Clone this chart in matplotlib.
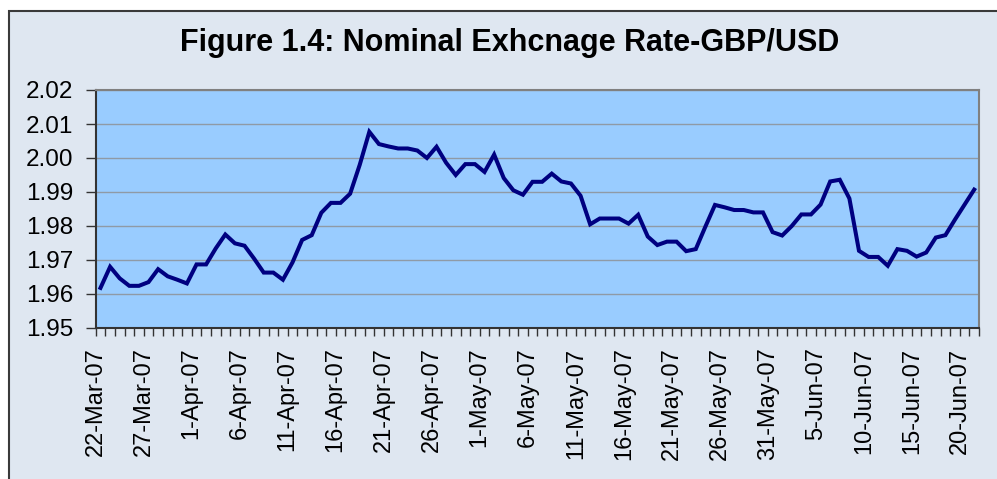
import numpy as np
import matplotlib.pyplot as plt
from matplotlib.patches import Rectangle

# GBP/USD daily rate, 22-Mar-07 .. 21-Jun-07 (weekends carry Friday's value)
rate = [1.9618, 1.9680, 1.9646, 1.9624, 1.9624, 1.9635, 1.9673, 1.9652,
        1.9642, 1.9631, 1.9687, 1.9687, 1.9734, 1.9775, 1.9749, 1.9742,
        1.9704, 1.9663, 1.9663, 1.9642, 1.9693, 1.9759, 1.9773, 1.9839,
        1.9868, 1.9868, 1.9895, 1.9980, 2.0077, 2.0041, 2.0034, 2.0028,
        2.0028, 2.0022, 2.0000, 2.0033, 1.9986, 1.9950, 1.9982, 1.9982,
        1.9959, 2.0010, 1.9941, 1.9905, 1.9892, 1.9930, 1.9930, 1.9954,
        1.9931, 1.9925, 1.9889, 1.9805, 1.9822, 1.9822, 1.9822, 1.9807,
        1.9833, 1.9769, 1.9744, 1.9754, 1.9754, 1.9726, 1.9732, 1.9798,
        1.9862, 1.9855, 1.9847, 1.9847, 1.9840, 1.9840, 1.9782, 1.9772,
        1.9800, 1.9834, 1.9834, 1.9863, 1.9931, 1.9936, 1.9881, 1.9727,
        1.9709, 1.9709, 1.9683, 1.9732, 1.9727, 1.9710, 1.9722, 1.9766,
        1.9773, 1.9819, 1.9863, 1.9907]

date_labels = ['22-Mar-07', '27-Mar-07', '1-Apr-07', '6-Apr-07', '11-Apr-07',
               '16-Apr-07', '21-Apr-07', '26-Apr-07', '1-May-07', '6-May-07',
               '11-May-07', '16-May-07', '21-May-07', '26-May-07', '31-May-07',
               '5-Jun-07', '10-Jun-07', '15-Jun-07', '20-Jun-07']

y_ticks = [1.95, 1.96, 1.97, 1.98, 1.99, 2.00, 2.01, 2.02]

W, H = 997, 479
fig = plt.figure(figsize=(W / 100, H / 100), dpi=100, facecolor='white')

# chart area frame
bg = Rectangle((9 / W, -0.05), 1.0, 1.05 - 11 / H,
               transform=fig.transFigure, facecolor='#dfe7f1',
               edgecolor='#3a3a3a', lw=1.5, zorder=-1)
fig.patches.append(bg)

ax = fig.add_axes([95.7 / W, 1 - 328 / H, (979 - 95.7) / W, (328 - 90) / H])
ax.set_zorder(2)
ax.set_facecolor('#99ccff')

x = np.arange(len(rate)) + 0.5
ax.plot(x, rate, color='#000080', lw=2.9, solid_joinstyle='miter', zorder=3)

ax.set_xlim(0, len(rate))
ax.set_ylim(1.95, 2.02)
ax.set_yticks(y_ticks)
ax.set_yticklabels(['%.2f' % v for v in y_ticks])
ax.grid(axis='y', color='#8f9aa6', lw=1.0)
ax.set_axisbelow(True)

ax.set_xticks(np.arange(0, len(rate) + 1), minor=True)
ax.set_xticks(np.arange(0, 91, 5))
ax.set_xticklabels(date_labels, rotation=90, fontsize=17,
                   fontfamily='Liberation Sans')
ax.tick_params(axis='x', which='both', direction='out', length=6,
               width=1, color='#333333', pad=8)
ax.tick_params(axis='y', direction='out', length=7, width=1,
               color='#333333', pad=9, labelsize=17.5)
for lab in ax.get_yticklabels():
    lab.set_fontfamily('Liberation Sans')

for s in ['left', 'bottom']:
    ax.spines[s].set_color('#333333')
    ax.spines[s].set_linewidth(1.5)
for s in ['top', 'right']:
    ax.spines[s].set_color('#808080')
    ax.spines[s].set_linewidth(1.5)

fig.text(509.5 / W, 1 - 43 / H, 'Figure 1.4: Nominal Exhcnage Rate-GBP/USD',
         ha='center', va='center', fontsize=22, fontweight='bold',
         fontfamily='Liberation Sans', zorder=3)

fig.savefig('out.png', dpi=100, facecolor='white')
